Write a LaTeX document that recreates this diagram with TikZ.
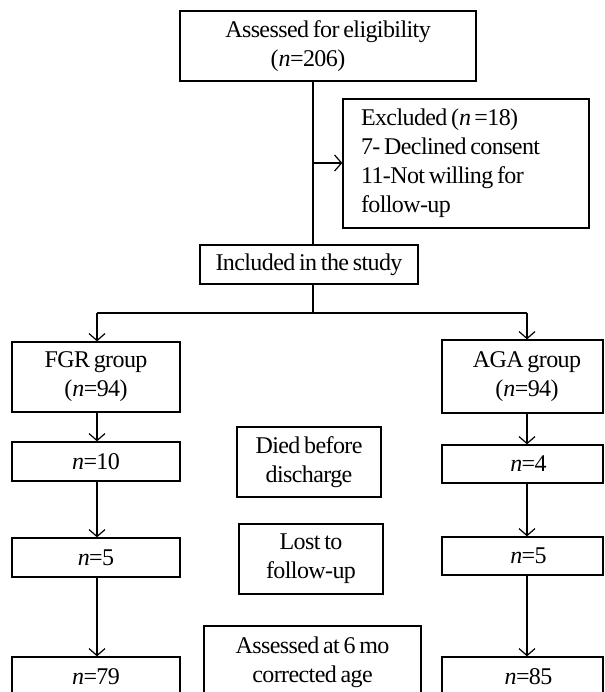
\documentclass[tikz,border=0pt]{standalone}
\usepackage{fontspec}
\setmainfont[LetterSpace=-2.5,WordSpace=0.7]{Liberation Serif}
\usetikzlibrary{arrows.meta}
\begin{document}
\begin{tikzpicture}[x=1pt,y=-1pt,
  font=\fontsize{24}{29}\selectfont,
  box/.style={draw, line width=1.3pt, inner sep=0pt, align=center},
  ln/.style={line width=1.2pt},
  arr/.style={line width=1.2pt, -{Straight Barb[length=7pt,width=16pt,line width=1.2pt]}}]
\path[use as bounding box] (0,0) rectangle (604,692);
\clip (0,0) rectangle (604,692);
% boxes
\node[box, minimum width=296pt, minimum height=70pt] (top) at (328,46)
  {Assessed for eligibility\\(\textit{n}=206)\hspace*{40pt}};
\node[box, minimum width=246pt, minimum height=129pt, align=flush left, text width=210pt] (excl) at (466,163.5)
  {Excluded (\textit{n} =18)\\7- Declined consent\\11-Not willing for\\follow-up};
\node[box, minimum width=218pt, minimum height=39pt] (incl) at (309,264.5) {Included in the study};
\node[box, minimum width=168pt, minimum height=70pt] (fgr) at (96,377) {FGR group\\(\textit{n}=94)};
\node[box, minimum width=161pt, minimum height=73pt] (aga) at (522.5,376.5) {\hspace*{9pt}AGA group\\\hspace*{9pt}(\textit{n}=94)};
\node[box, minimum width=168pt, minimum height=39pt] (f10) at (96,461.5) {\textit{n}=10};
\node[box, minimum width=161pt, minimum height=38pt] (a4) at (522.5,464) {\hspace*{12pt}\textit{n}=4};
\node[box, minimum width=168pt, minimum height=39pt] (f5) at (96,557.5) {\textit{n}=5};
\node[box, minimum width=161pt, minimum height=38pt] (a5) at (522.5,556) {\hspace*{12pt}\textit{n}=5};
\node[box, minimum width=168pt, minimum height=40pt] (f79) at (96,677) {\textit{n}=79};
\node[box, minimum width=161pt, minimum height=40pt] (a85) at (522.5,677) {\hspace*{12pt}\textit{n}=85};
\node[box, minimum width=144pt, minimum height=70pt] (died) at (309,462) {Died before\\discharge};
\node[box, minimum width=144pt, minimum height=70pt] (lost) at (311,559) {Lost to\\follow-up};
\node[box, minimum width=217pt, minimum height=72pt] (assess) at (312.5,662) {Assessed at 6 mo\\corrected age};
% connectors
\coordinate (sp) at (313,163);
\coordinate (split) at (313,313);
\coordinate (cf) at (97,313);
\coordinate (ca) at (527,313);
\draw[ln] (top.south -| sp) -- (incl.north -| sp);
\draw[arr] (sp) -- (sp -| excl.west);
\draw[ln] (incl.south -| split) -- (split);
\draw[ln] (cf) -- (ca);
\draw[arr] (cf) -- (cf |- fgr.north);
\draw[arr] (ca) -- (ca |- aga.north);
\draw[arr] (cf |- fgr.south) -- (cf |- f10.north);
\draw[arr] (cf |- f10.south) -- (cf |- f5.north);
\draw[arr] (cf |- f5.south) -- (cf |- f79.north);
\draw[arr] (ca |- aga.south) -- (ca |- a4.north);
\draw[arr] (ca |- a4.south) -- (ca |- a5.north);
\draw[arr] (ca |- a5.south) -- (ca |- a85.north);
\end{tikzpicture}
\end{document}
